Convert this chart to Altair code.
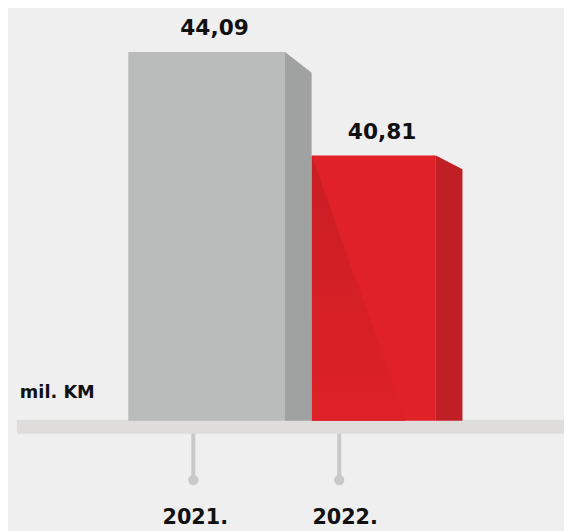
import altair as alt
import pandas as pd

# ---- data ----
years = ["2021.", "2022."]
values = [44.09, 40.81]
value_labels = ["44,09", "40,81"]
unit_label = "mil. KM"

# ---- layout (plot geometry, separate from the data) ----
W, H, PAD_B = 564, 415, 108
BASE = 32.4          # value at the baseline of the bars
YTOP = 45.37         # value at the top of the plot area
PX_PER_UNIT = H / (YTOP - BASE)
front_left = [122, 308]
front_right = [281, 434]
side_w = 27
side_drop_px = [21, 14]
tick_x = [188, 336]
label_x = [190, 342]
value_label_x = [209.5, 379.5]

front_colors = ["#babcbb", "#e02127"]
side_colors = ["#a0a2a1", "#c01f25"]
FONT = "DejaVu Sans"

bars = pd.DataFrame({
    "year": years, "value": values, "label": value_labels,
    "x0": front_left, "x1": front_right, "tx": tick_x, "lx": label_x,
    "vx": value_label_x,
})

side_rows = []
for i, yr in enumerate(years):
    side_rows.append({"year": yr, "x": front_right[i], "value": values[i]})
    side_rows.append({"year": yr, "x": front_right[i] + side_w,
                      "value": values[i] - side_drop_px[i] / PX_PER_UNIT})
sides = pd.DataFrame(side_rows)

# darker wedge on the red front face
wi = 1
wedge = pd.DataFrame([
    {"x": front_left[wi], "value": values[wi]},
    {"x": front_left[wi] + 96, "value": BASE},
])

xs = alt.Scale(domain=[0, W], nice=False, zero=False)
ys = alt.Scale(domain=[BASE, YTOP], nice=False, zero=False)

band = alt.Chart(alt.Data(values=[{}])).mark_rect(color="#dfdddc").encode(
    x=alt.value(9), x2=alt.value(W), y=alt.value(H - 1), y2=alt.value(H + 13)
)

fronts = alt.Chart(bars).mark_rect().encode(
    x=alt.X("x0:Q", scale=xs, axis=None), x2="x1:Q",
    y=alt.Y("value:Q", scale=ys, axis=None), y2=alt.datum(BASE),
    color=alt.Color("year:N", scale=alt.Scale(domain=years, range=front_colors), legend=None),
)

wedge_layer = alt.Chart(wedge).mark_area(
    color=alt.Gradient(
        gradient="linear",
        stops=[alt.GradientStop(color="#c81f25", offset=0),
               alt.GradientStop(color="#d01f25", offset=0.35),
               alt.GradientStop(color="#de2127", offset=1)],
        x1=0, x2=0, y1=0, y2=1,
    )
).encode(
    x=alt.X("x:Q", scale=xs, axis=None),
    y=alt.Y("value:Q", scale=ys, axis=None), y2=alt.datum(BASE),
)

side_layer = alt.Chart(sides).mark_area().encode(
    x=alt.X("x:Q", scale=xs, axis=None),
    y=alt.Y("value:Q", scale=ys, axis=None), y2=alt.datum(BASE),
    detail="year:N",
    color=alt.Color("year:N", scale=alt.Scale(domain=years, range=side_colors), legend=None),
)

ticks = alt.Chart(bars).mark_rule(color="#c9c9c9", strokeWidth=4).encode(
    x=alt.X("tx:Q", scale=xs, axis=None), y=alt.value(H + 13), y2=alt.value(H + 60)
)
dots = alt.Chart(bars).mark_circle(color="#c9c9c9", opacity=1, size=110).encode(
    x=alt.X("tx:Q", scale=xs, axis=None), y=alt.value(H + 60)
)
year_text = alt.Chart(bars).mark_text(
    font=FONT, fontWeight="bold", fontSize=21, color="#111111",
    align="center", baseline="alphabetic"
).encode(x=alt.X("lx:Q", scale=xs, axis=None), y=alt.value(H + 105), text="year:N")

value_text = alt.Chart(bars).mark_text(
    font=FONT, fontWeight="bold", fontSize=22, color="#111111",
    align="center", baseline="alphabetic", dy=-17
).encode(x=alt.X("vx:Q", scale=xs, axis=None),
         y=alt.Y("value:Q", scale=ys, axis=None), text="label:N")

unit_text = alt.Chart(alt.Data(values=[{"t": unit_label}])).mark_text(
    font=FONT, fontWeight="bold", fontSize=18, color="#111111",
    align="left", baseline="alphabetic"
).encode(x=alt.value(12), y=alt.value(392), text="t:N")

chart = alt.layer(
    band, fronts, wedge_layer, side_layer, ticks, dots, year_text, value_text, unit_text
).resolve_scale(color="independent").properties(
    width=W, height=H, background="#efefef",
    padding={"left": 0, "top": 0, "right": 0, "bottom": PAD_B},
    autosize=alt.AutoSizeParams(type="none"),
).configure_view(stroke=None)

chart.save("out.html", embed_options={"renderer": "svg", "actions": False})
